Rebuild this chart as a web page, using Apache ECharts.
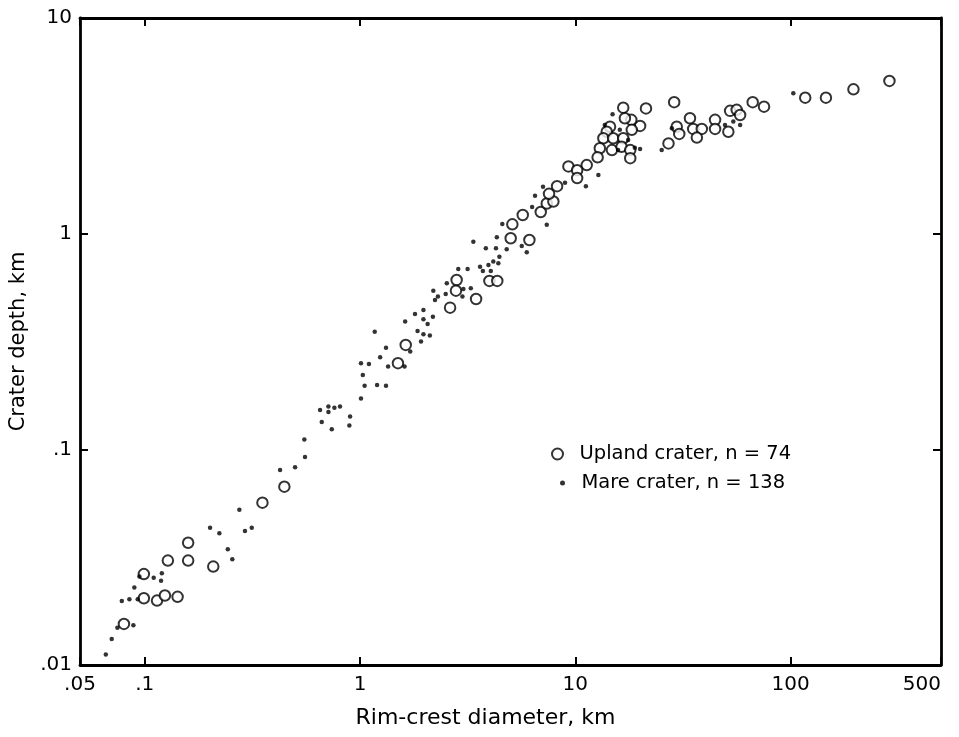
<!DOCTYPE html>
<html>
<head>
<meta charset="utf-8">
<script src="https://cdn.jsdelivr.net/npm/echarts@6/dist/echarts.min.js"></script>
<style>
  html, body { margin: 0; padding: 0; background: #fff; }
  #chart { width: 959px; height: 737px; }
</style>
</head>
<body>
<div id="chart"></div>
<script>
// upland craters (open circles): rim-crest diameter km / depth km
const uplandDiameter = [
  0.159, 0.128, 0.159, 0.208, 0.099, 0.099, 0.114, 0.124, 0.142, 0.080, 0.352, 0.445,
  2.81, 2.79, 2.62, 3.46, 3.99, 4.34, 1.63, 1.50, 5.10, 5.70, 5.01, 6.12, 6.91, 7.37, 7.91,
  288, 196, 146, 117, 75.3, 66.7, 52.4, 56.2, 58.3, 28.8, 21.3, 16.7, 44.6, 44.6, 51.4,
  34.1, 35.3, 38.7, 36.7, 29.6, 30.4, 27.1, 20.0, 18.2, 17.0, 14.5, 14.0, 13.5, 15.0,
  16.7, 18.3, 13.0, 14.8, 16.4, 18.0, 18.0, 12.7, 11.3, 9.29, 10.2, 10.2, 7.55, 8.23
];
const uplandDepth = [
  0.0369, 0.0305, 0.0305, 0.0286, 0.0264, 0.0204, 0.0199, 0.0210, 0.0207, 0.0155, 0.0566, 0.0671,
  0.610, 0.544, 0.454, 0.498, 0.604, 0.604, 0.305, 0.251, 1.105, 1.22, 0.952, 0.935, 1.26, 1.38, 1.41,
  5.11, 4.67, 4.27, 4.27, 3.88, 4.07, 3.71, 3.75, 3.55, 4.07, 3.81, 3.84, 3.37, 3.06, 2.97,
  3.43, 3.06, 3.06, 2.79, 3.13, 2.90, 2.62, 3.16, 3.37, 3.43, 3.13, 2.97, 2.77, 2.77,
  2.77, 3.03, 2.49, 2.44, 2.53, 2.44, 2.24, 2.26, 2.08, 2.05, 1.97, 1.81, 1.53, 1.66
];

// mare craters (dots)
const mareDiameter = [
  0.425, 0.499, 0.555, 0.275, 0.201, 0.222, 0.292, 0.314, 0.243, 0.255, 0.110, 0.120,
  0.119, 0.0894, 0.0782, 0.0848, 0.0927, 0.0885, 0.0746, 0.0702, 0.0659, 0.0944,
  4.58, 7.37, 3.36, 4.32, 3.84, 4.28, 4.80, 5.64, 5.95, 4.44, 4.16, 4.39, 3.61, 3.95,
  3.72, 4.05, 2.86, 3.16, 2.53, 3.02, 3.27, 2.50, 2.99, 2.19, 2.30, 2.23, 1.97, 1.80,
  2.18, 1.97, 2.06, 1.62, 1.85, 1.97, 2.11, 1.92, 1.17, 1.32, 1.71, 1.24, 1.01, 1.10,
  1.61, 1.35, 1.03, 1.05, 1.20, 1.32, 1.01, 0.652, 0.713, 0.760, 0.807, 0.713, 0.664,
  0.739, 0.899, 0.892, 0.551,
  103, 14.9, 20.0, 25.2, 54.2, 58.3, 28.1,
  6.50, 7.08, 8.96, 11.2, 12.8, 6.30, 13.7, 16.1, 15.8, 17.6, 18.9, 49.6
];
const mareDepth = [
  0.0802, 0.0826, 0.0922, 0.0524, 0.0433, 0.0408, 0.0418, 0.0433, 0.0344, 0.0309, 0.0254, 0.0266,
  0.0246, 0.0229, 0.0198, 0.0202, 0.0202, 0.0153, 0.0149, 0.0132, 0.0112, 0.0257,
  1.11, 1.10, 0.918, 0.962, 0.856, 0.856, 0.847, 0.877, 0.820, 0.782, 0.742, 0.729, 0.703, 0.716,
  0.671, 0.671, 0.686, 0.686, 0.589, 0.554, 0.558, 0.525, 0.511, 0.544, 0.511, 0.493, 0.443, 0.424,
  0.412, 0.401, 0.381, 0.391, 0.354, 0.342, 0.337, 0.316, 0.351, 0.296, 0.284, 0.267, 0.251, 0.249,
  0.242, 0.242, 0.221, 0.197, 0.199, 0.197, 0.172, 0.152, 0.158, 0.156, 0.158, 0.149, 0.134,
  0.124, 0.142, 0.129, 0.111,
  4.48, 3.58, 2.47, 2.44, 3.31, 3.19, 3.08,
  1.50, 1.65, 1.72, 1.66, 1.87, 1.33, 3.19, 3.03, 2.44, 2.72, 2.50, 3.19
];

const uplandName = "Upland crater, n = 74";
const mareName = "Mare crater, n = 138";

const font = "DejaVu Sans";
const zip = (xs, ys) => xs.map((x, i) => [x, ys[i]]);
const fmt = (v) => String(+(+v).toPrecision(4)).replace(/^0\./, ".");

const chart = echarts.init(document.getElementById("chart"));
const logAxis = (extra) =>
  Object.assign(
    {
      type: "log",
      logBase: 10,
      splitLine: { show: false },
      axisLine: { lineStyle: { color: "#000", width: 2.8 } },
      axisTick: { inside: true, length: 8, lineStyle: { color: "#000", width: 2 } },
      minorTick: { show: false },
    },
    extra
  );

chart.setOption({
  backgroundColor: "#fff",
  animation: false,
  grid: { left: 80, right: 18, top: 18, bottom: 72 },
  xAxis: [
    logAxis({
      min: 0.05,
      max: 500,
      position: "bottom",
      name: "Rim-crest diameter, km",
      nameLocation: "middle",
      nameGap: 42,
      nameTextStyle: { fontFamily: font, fontSize: 22, color: "#000", padding: [0, 50, 0, 0] },
      axisLabel: {
        fontFamily: font,
        fontSize: 20,
        color: "#000",
        margin: 10,
        alignMaxLabel: "right",
        formatter: fmt,
      },
    }),
    logAxis({
      min: 0.05,
      max: 500,
      position: "top",
      axisLabel: { show: false },
    }),
  ],
  yAxis: [
    logAxis({
      min: 0.01,
      max: 10,
      position: "left",
      name: "Crater depth, km",
      nameLocation: "middle",
      nameGap: 44,
      nameTextStyle: { fontFamily: font, fontSize: 21, color: "#000" },
      axisLabel: { fontFamily: font, fontSize: 20, color: "#000", margin: 8, formatter: fmt },
    }),
    logAxis({
      min: 0.01,
      max: 10,
      position: "right",
      axisLabel: { show: false },
    }),
  ],
  legend: [
    {
      data: [uplandName],
      left: 546,
      top: 439,
      itemWidth: 34,
      itemHeight: 11,
      textStyle: { fontFamily: font, fontSize: 19.5, color: "#000" },
    },
    {
      data: [mareName],
      left: 555,
      top: 468,
      itemWidth: 28,
      itemHeight: 5,
      textStyle: { fontFamily: font, fontSize: 19.5, color: "#000" },
    },
  ],
  series: [
    {
      name: uplandName,
      type: "scatter",
      symbol: "circle",
      symbolSize: 10.5,
      itemStyle: { color: "#fff", borderColor: "#000", borderWidth: 2 },
      data: zip(uplandDiameter, uplandDepth),
    },
    {
      name: mareName,
      type: "scatter",
      symbol: "circle",
      symbolSize: 4.5,
      itemStyle: { color: "#000" },
      data: zip(mareDiameter, mareDepth),
    },
  ],
});
</script>
</body>
</html>
